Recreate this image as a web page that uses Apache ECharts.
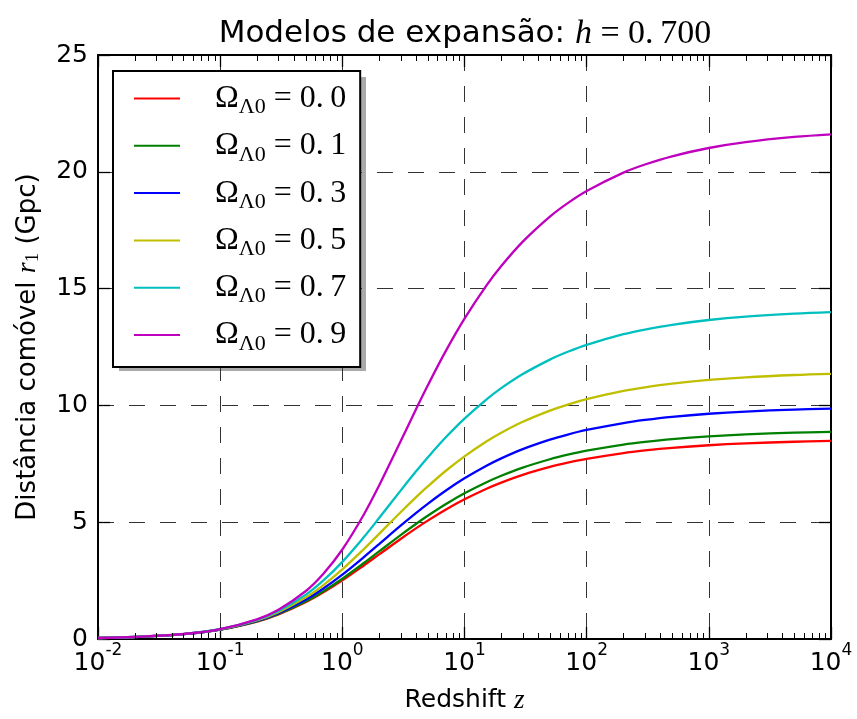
<!DOCTYPE html>
<html><head><meta charset="utf-8">
<script src="https://cdn.jsdelivr.net/npm/echarts@6/dist/echarts.min.js"></script>
<style>html,body{margin:0;padding:0;background:#fff}#c{width:857px;height:719px}</style>
</head><body><div id="c"></div>
<script>
// Redshift values (x, log axis)
const redshift = [0.01, 0.02, 0.05, 0.1, 0.2, 0.3, 0.5, 0.7, 1, 1.5, 2, 3, 4, 5, 7, 10, 15, 20, 30, 50, 70, 100, 200, 300, 500, 1000, 2000, 5000, 10000];
// Comoving distance r1 (Gpc) for each Omega_Lambda0
const omegaLambda = ['0.0', '0.1', '0.3', '0.5', '0.7', '0.9'];
const r1_OL00 = [0.0425, 0.0844, 0.2064, 0.3986, 0.7463, 1.0531, 1.5718, 1.9960, 2.5087, 3.1482, 3.6202, 4.2827, 4.7348, 5.0686, 5.5371, 5.9829, 6.4241, 6.6963, 7.0270, 7.3660, 7.5489, 7.7131, 7.9613, 8.0714, 8.1827, 8.2947, 8.3739, 8.4443, 8.4797];
const r1_OL01 = [0.0426, 0.0845, 0.2072, 0.4011, 0.7548, 1.0692, 1.6050, 2.0461, 2.5817, 3.2523, 3.7484, 4.4458, 4.9221, 5.2738, 5.7675, 6.2373, 6.7024, 6.9893, 7.3379, 7.6953, 7.8880, 8.0612, 8.3228, 8.4389, 8.5562, 8.6742, 8.7577, 8.8319, 8.8693];
const r1_OL03 = [0.0426, 0.0848, 0.2087, 0.4065, 0.7731, 1.1048, 1.6805, 2.1625, 2.7550, 3.5045, 4.0626, 4.8502, 5.3892, 5.7876, 6.3472, 6.8796, 7.4069, 7.7323, 8.1276, 8.5328, 8.7514, 8.9477, 9.2443, 9.3760, 9.5089, 9.6427, 9.7374, 9.8216, 9.8640];
const r1_OL05 = [0.0427, 0.0850, 0.2102, 0.4123, 0.7937, 1.1460, 1.7724, 2.3094, 2.9818, 3.8470, 4.4983, 5.4235, 6.0592, 6.5297, 7.1912, 7.8206, 8.4446, 8.8295, 9.2972, 9.7767, 10.0353, 10.2676, 10.6186, 10.7743, 10.9317, 11.0900, 11.2021, 11.3016, 11.3518];
const r1_OL07 = [0.0427, 0.0853, 0.2117, 0.4186, 0.8170, 1.1946, 1.8886, 2.5053, 3.3028, 4.3620, 5.1774, 6.3526, 7.1669, 7.7718, 8.6239, 9.4359, 10.2407, 10.7377, 11.3415, 11.9604, 12.2943, 12.5942, 13.0473, 13.2484, 13.4515, 13.6559, 13.8006, 13.9291, 13.9939];
const r1_OL09 = [0.0428, 0.0855, 0.2132, 0.4257, 0.8439, 1.2536, 2.0448, 2.7937, 3.8315, 5.3315, 6.5726, 8.4641, 9.8242, 10.8505, 12.3107, 13.7119, 15.104, 15.965, 17.011, 18.083, 18.661, 19.181, 19.965, 20.313, 20.665, 21.019, 21.269, 21.492, 21.604];
const seriesValues = [r1_OL00, r1_OL01, r1_OL03, r1_OL05, r1_OL07, r1_OL09];
const lineColors = ['#ff0000', '#008000', '#0000ff', '#bfbf00', '#00bfbf', '#bf00bf'];
// Axis ticks
const xTickExponents = [-2, -1, 0, 1, 2, 3, 4];
const yTicks = [0, 5, 10, 15, 20, 25];
const minorTicks = [];
for (let e = -2; e < 4; e++) for (let k = 2; k <= 9; k++) minorTicks.push(k * Math.pow(10, e));

const chart = echarts.init(document.getElementById('c'), null, {renderer: 'canvas'});
const gridDash = [16, 15];
const series = omegaLambda.map((name, i) => ({
  name: name, type: 'line', xAxisIndex: 0, yAxisIndex: 0,
  data: redshift.map((z, j) => [z, seriesValues[i][j]]),
  showSymbol: false, symbol: 'none', smooth: 0.35,
  lineStyle: {color: lineColors[i], width: 2.3}, itemStyle: {color: lineColors[i]},
  silent: true, z: 3
}));
series.push({
  type: 'custom', xAxisIndex: 0, yAxisIndex: 0, silent: true, z: 4,
  data: minorTicks.map(v => [v, 1]),
  renderItem: function (params, api) {
    const cs = params.coordSys;
    const x = Math.round(api.coord([api.value(0), 1])[0]) + 0.5;
    const b = cs.y + cs.height, t = cs.y;
    return {type: 'group', children: [
      {type: 'line', shape: {x1: x, y1: b, x2: x, y2: b - 6}, style: {stroke: '#000', lineWidth: 1}},
      {type: 'line', shape: {x1: x, y1: t, x2: x, y2: t + 6}, style: {stroke: '#000', lineWidth: 1}}
    ]};
  }
});

const xLabelRich = {
  b: {fontFamily: 'DejaVu Sans', fontSize: 25, lineHeight: 25, verticalAlign: 'bottom', color: '#000'},
  p: {fontFamily: 'DejaVu Sans', fontSize: 17, lineHeight: 17, verticalAlign: 'top', color: '#000'},
  f: {fontSize: 1, lineHeight: 34}
};

const option = {
  backgroundColor: '#fff',
  animation: false,
  title: {
    text: '{a|Modelos de expansão: }{h|h}{m| = 0.\u2009700}',
    left: 460, top: 12, textAlign: 'center',
    textStyle: {fontWeight: 'normal', rich: {
      a: {fontFamily: 'DejaVu Sans', fontWeight: 'normal', fontSize: 31, color: '#000'},
      h: {fontFamily: 'Liberation Serif', fontWeight: 'normal', fontStyle: 'italic', fontSize: 34, color: '#000'},
      m: {fontFamily: 'Liberation Serif', fontWeight: 'normal', fontSize: 34, color: '#000'}
    }}
  },
  graphic: [{
    type: 'rect', z: 0, silent: true,
    shape: {x: 119, y: 77, width: 247, height: 294},
    style: {fill: '#a9a9a9'}
  }],
  grid: {left: 98, right: 26, top: 55, bottom: 78, containLabel: false},
  legend: {
    orient: 'vertical', left: 113, top: 71, z: 10,
    data: omegaLambda, icon: 'rect', itemWidth: 46, itemHeight: 2, itemGap: 11.3,
    selectedMode: false,
    padding: [11.5, 14, 12, 21],
    backgroundColor: '#fff', borderColor: '#000', borderWidth: 2, borderRadius: 0,
    formatter: name => '{o|Ω}{s|Λ0}{e| = ' + name.replace('.', '.\u2009') + '}',
    textStyle: {rich: {
      o: {fontFamily: 'Liberation Serif', fontSize: 32, lineHeight: 40, color: '#000', padding: [0, 0, 0, 30]},
      s: {fontFamily: 'Liberation Serif', fontSize: 22, lineHeight: 22, verticalAlign: 'bottom', color: '#000'},
      e: {fontFamily: 'Liberation Serif', fontSize: 32, lineHeight: 40, color: '#000'}
    }}
  },
  xAxis: [{
    type: 'log', logBase: 10, min: 0.01, max: 10000, splitNumber: 6, position: 'bottom',
    name: '{t|Redshift }{i|z}', nameLocation: 'middle', nameGap: 48,
    nameTextStyle: {rich: {
      t: {fontFamily: 'DejaVu Sans', fontSize: 25, color: '#000'},
      i: {fontFamily: 'Liberation Serif', fontStyle: 'italic', fontSize: 27, color: '#000'}
    }},
    axisLine: {show: true, onZero: false, lineStyle: {color: '#000', width: 2}},
    axisTick: {show: true, inside: true, length: 12, lineStyle: {color: '#000', width: 1.3}},
    minorTick: {show: false},
    axisLabel: {
      show: true, margin: 3, showMinLabel: true, showMaxLabel: true, hideOverlap: false,
      formatter: function (v) {
        const e = Math.round(Math.log10(v));
        if (xTickExponents.indexOf(e) < 0) return '';
        return '{f|}{b|10}{p|' + String(e) + '}';
      },
      rich: xLabelRich
    },
    splitLine: {show: true, lineStyle: {color: '#333', width: 1, type: gridDash}}
  }, {
    type: 'log', logBase: 10, min: 0.01, max: 10000, splitNumber: 6, position: 'top',
    axisLine: {show: true, onZero: false, lineStyle: {color: '#000', width: 2}},
    axisTick: {show: true, inside: true, length: 12, lineStyle: {color: '#000', width: 1.3}},
    axisLabel: {show: false}, splitLine: {show: false}
  }],
  yAxis: [{
    type: 'value', min: yTicks[0], max: yTicks[yTicks.length - 1], interval: 5, position: 'left',
    name: '{t|Distância comóvel }{i|r}{s|1}{t| (Gpc)}', nameLocation: 'middle', nameGap: 55, nameRotate: 90,
    nameTextStyle: {rich: {
      t: {fontFamily: 'DejaVu Sans', fontSize: 26, lineHeight: 30, color: '#000'},
      i: {fontFamily: 'Liberation Serif', fontStyle: 'italic', fontSize: 28, lineHeight: 30, color: '#000'},
      s: {fontFamily: 'Liberation Serif', fontSize: 19, lineHeight: 19, verticalAlign: 'bottom', color: '#000'}
    }},
    axisLine: {show: true, onZero: false, lineStyle: {color: '#000', width: 2}},
    axisTick: {show: true, inside: true, length: 12, lineStyle: {color: '#000', width: 1.3}},
    axisLabel: {show: true, margin: 10, fontFamily: 'DejaVu Sans', fontSize: 25, color: '#000'},
    splitLine: {show: true, lineStyle: {color: '#333', width: 1, type: gridDash}}
  }, {
    type: 'value', min: yTicks[0], max: yTicks[yTicks.length - 1], interval: 5, position: 'right',
    axisLine: {show: true, onZero: false, lineStyle: {color: '#000', width: 2}},
    axisTick: {show: true, inside: true, length: 12, lineStyle: {color: '#000', width: 1.3}},
    axisLabel: {show: false}, splitLine: {show: false}
  }],
  series: series
};
chart.setOption(option);
</script>
</body></html>
